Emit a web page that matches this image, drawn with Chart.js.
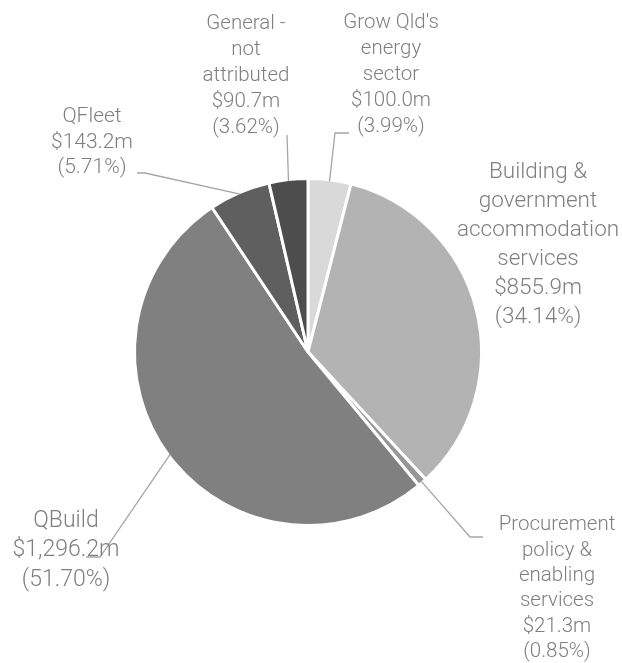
<!DOCTYPE html>
<html>
<head>
<meta charset="utf-8">
<script src="https://cdn.jsdelivr.net/npm/chart.js@4.4.1/dist/chart.umd.min.js"></script>
<style>
  html, body { margin: 0; padding: 0; background: #ffffff; }
  #wrap { position: relative; width: 622px; height: 663px; }
</style>
</head>
<body>
<div id="wrap"><canvas id="c"></canvas></div>
<script>
// ---- Data ----
const categories = [
  "Grow Qld's energy sector",
  "Building & government accommodation services",
  "Procurement policy & enabling services",
  "QBuild",
  "QFleet",
  "General - not attributed"
];
const nameLines = [
  ["Grow Qld's", "energy", "sector"],
  ["Building &", "government", "accommodation", "services"],
  ["Procurement", "policy &", "enabling", "services"],
  ["QBuild"],
  ["QFleet"],
  ["General -", "not", "attributed"]
];
const valuesM = [100.0, 855.9, 21.3, 1296.2, 143.2, 90.7];
const percents = [3.99, 34.14, 0.85, 51.70, 5.71, 3.62];

// ---- Style / layout ----
const sliceColors = ["#d9d9d9", "#b3b3b3", "#969696", "#808080", "#5f5f5f", "#4d4d4d"];
const textColor = "#7f7f7f";
const leaderColor = "#a6a6a6";
const FONT = "Roboto, 'Liberation Sans', Arial, sans-serif";
const FONT_WEIGHT = 300;
// label block: center x, first line center y, font size, line height,
// leader: elbow points after the slice edge point (null = no leader)
const labelLayout = [
  { x: 391, y: 23,  size: 20.5, lh: 26,   leader: [[335, 133], [349, 133]] },
  { x: 538, y: 172, size: 22.5, lh: 29,   leader: null },
  { x: 557, y: 525, size: 20.5, lh: 25.4, leader: [[470, 537], [483, 537]] },
  { x: 66,  y: 521, size: 23,   lh: 29.5, leader: [[100, 557], [86, 557]] },
  { x: 92,  y: 117, size: 21,   lh: 25.5, leader: [[145, 173], [137, 173]] },
  { x: 246, y: 24,  size: 20.5, lh: 26,   leader: [[287, 135]] }
];

function fmtValue(v) {
  return "$" + v.toLocaleString("en-US", { minimumFractionDigits: 1, maximumFractionDigits: 1 }) + "m";
}
function fmtPct(p) { return "(" + p.toFixed(2) + "%)"; }

const labelPlugin = {
  id: "pieLabels",
  afterDraw(chart) {
    const ctx = chart.ctx;
    const meta = chart.getDatasetMeta(0);
    meta.data.forEach((arc, i) => {
      const p = arc.getProps(["x", "y", "startAngle", "endAngle", "outerRadius"], true);
      const mid = (p.startAngle + p.endAngle) / 2;
      const r = p.outerRadius - 1.5;
      const sx = p.x + Math.cos(mid) * r;
      const sy = p.y + Math.sin(mid) * r;
      const L = labelLayout[i];
      if (L.leader) {
        ctx.save();
        ctx.strokeStyle = leaderColor;
        ctx.lineWidth = 1.3;
        ctx.beginPath();
        ctx.moveTo(sx, sy);
        L.leader.forEach(pt => ctx.lineTo(pt[0], pt[1]));
        ctx.stroke();
        ctx.restore();
      }
      const lines = nameLines[i].concat([fmtValue(valuesM[i]), fmtPct(percents[i])]);
      ctx.save();
      ctx.fillStyle = textColor;
      ctx.font = FONT_WEIGHT + " " + L.size + "px " + FONT;
      ctx.textAlign = "center";
      ctx.textBaseline = "middle";
      lines.forEach((t, k) => ctx.fillText(t, L.x, L.y + k * L.lh));
      ctx.restore();
    });
  }
};

new Chart(document.getElementById("c"), {
  type: "pie",
  data: {
    labels: categories,
    datasets: [{
      data: valuesM,
      backgroundColor: sliceColors,
      borderColor: "#ffffff",
      borderWidth: 3,
      hoverOffset: 0
    }]
  },
  options: {
    responsive: true,
    maintainAspectRatio: false,
    animation: false,
    events: [],
    radius: 173.5,
    layout: { padding: { left: 0, right: 6, top: 41, bottom: 0 } },
    plugins: { legend: { display: false }, tooltip: { enabled: false } }
  },
  plugins: [labelPlugin]
});
</script>
</body>
</html>
